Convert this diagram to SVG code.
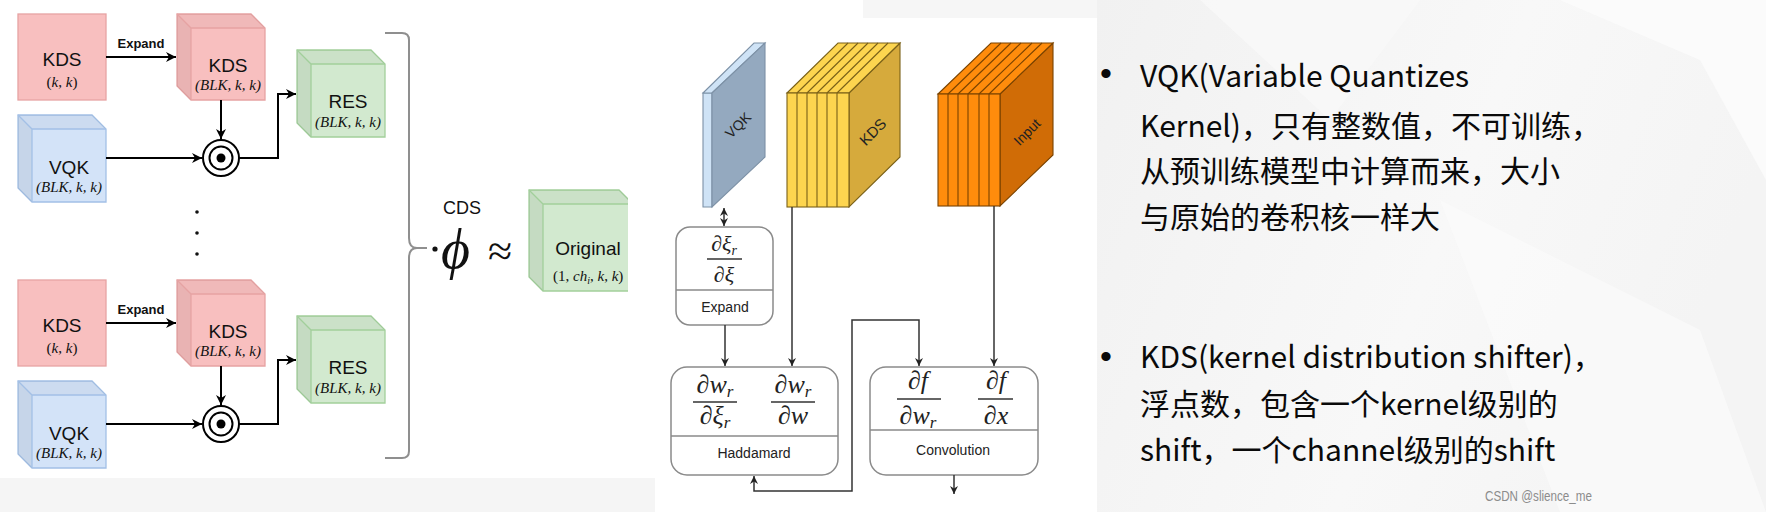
<svg xmlns="http://www.w3.org/2000/svg" width="1766" height="512" viewBox="0 0 1766 512">
<style>
.sans{font-family:"Liberation Sans",Arial,sans-serif;}
.math{font-family:"Liberation Serif","Times New Roman",serif;font-style:italic;}
.mup{font-family:"Liberation Serif","Times New Roman",serif;font-style:normal;}
.pink{fill:#f8bfbf;stroke:#e6a3a3;stroke-width:1.3;}
.blue{fill:#d3e3f8;stroke:#a3c0e6;stroke-width:1.3;}
.green{fill:#d2e9cf;stroke:#a2cf9b;stroke-width:1.3;}
.shT{fill:#000;fill-opacity:0.03;stroke:none;}
.shL{fill:#000;fill-opacity:0.06;stroke:none;}
.lbl{font-size:19px;fill:#111;text-anchor:middle;}
.sub{font-size:15px;fill:#111;text-anchor:middle;}
.con{fill:none;stroke:#000;stroke-width:2;}
.con2{fill:none;stroke:#333;stroke-width:1.5;}
.box{fill:#fff;stroke:#8a8a8a;stroke-width:1.5;}
.frac{font-size:26px;fill:#222;text-anchor:middle;}
.fl{stroke:#333;stroke-width:1.4;}
.bl{font-size:14px;fill:#222;text-anchor:middle;}
.rt{font-family:"Noto Sans CJK SC","Noto Sans",sans-serif;font-size:30px;fill:#0a0a0a;}
.bul{font-family:"Liberation Sans",Arial,sans-serif;font-size:34px;fill:#0a0a0a;text-anchor:middle;}
.slab{stroke-width:1.1;}
.rot{font-family:"Liberation Sans",Arial,sans-serif;fill:#222;stroke:none;text-anchor:middle;}
</style>
<defs>
<marker id="ah" viewBox="0 0 10 10" refX="10" refY="5" markerWidth="10" markerHeight="10" markerUnits="userSpaceOnUse" orient="auto-start-reverse"><path d="M0,0 L10,5 L0,10 L3,5 Z" fill="#000"/></marker>
<marker id="ah2" viewBox="0 0 10 10" refX="10" refY="5" markerWidth="8" markerHeight="8" markerUnits="userSpaceOnUse" orient="auto-start-reverse"><path d="M0,0 L10,5 L0,10 L3,5 Z" fill="#222"/></marker>
<linearGradient id="rbg" x1="0" y1="0" x2="1" y2="0.3">
<stop offset="0" stop-color="#f1f1f1"/><stop offset="0.6" stop-color="#f8f8f8"/><stop offset="1" stop-color="#f4f4f4"/>
</linearGradient>
<clipPath id="clipOrig"><rect x="500" y="150" width="128" height="160"/></clipPath>
</defs>

<!-- backgrounds -->
<rect x="0" y="0" width="1766" height="512" fill="#f5f5f5"/>
<rect x="0" y="0" width="1097" height="478" fill="#ffffff"/>
<rect x="655" y="470" width="442" height="42" fill="#ffffff"/>
<rect x="863" y="0" width="234" height="18" fill="#f6f6f6"/>
<rect x="1097" y="0" width="669" height="512" fill="url(#rbg)"/>
<polygon points="1560,0 1766,0 1766,180 1700,60" fill="#fbfbfb"/>
<polygon points="1440,200 1700,330 1766,512 1560,512" fill="#fafafa" opacity="0.8"/>
<polygon points="1200,0 1420,0 1330,120" fill="#fafafa" opacity="0.7"/>

<!-- ===== Left panel, top set ===== -->
<g id="kds-sq-1">
<rect class="pink" x="18" y="14" width="88" height="86"/>
<text class="sans lbl" x="62" y="66">KDS</text>
<text class="mup sub" x="62" y="87">(<tspan class="math">k</tspan>, <tspan class="math">k</tspan>)</text>
</g>
<g id="kds-cube-1">
<path class="pink" d="M177,14 H251 L265,28 V100 H191 L177,86 Z"/>
<path class="shT" d="M177,14 H251 L265,28 H191 Z"/>
<path class="shL" d="M177,14 L191,28 V100 L177,86 Z"/>
<path d="M177,14 L191,28 H265 M191,28 V100" fill="none" stroke="#e6a3a3" stroke-width="1.3"/>
<text class="sans lbl" x="228" y="72">KDS</text>
<text class="math sub" x="228" y="90">(BLK, k, k)</text>
</g>
<g id="vqk-cube-1">
<path class="blue" d="M18,115 H92 L106,129 V202 H32 L18,188 Z"/>
<path class="shT" d="M18,115 H92 L106,129 H32 Z"/>
<path class="shL" d="M18,115 L32,129 V202 L18,188 Z"/>
<path d="M18,115 L32,129 H106 M32,129 V202" fill="none" stroke="#a3c0e6" stroke-width="1.3"/>
<text class="sans lbl" x="69" y="174">VQK</text>
<text class="math sub" x="69" y="192">(BLK, k, k)</text>
</g>
<g id="odot-1">
<circle cx="221" cy="158" r="18" fill="#fff" stroke="#000" stroke-width="2"/>
<circle cx="221" cy="158" r="11.5" fill="none" stroke="#000" stroke-width="2"/>
<circle cx="221" cy="158" r="4.5" fill="#000"/>
</g>
<g id="res-cube-1">
<path class="green" d="M297,50 H371 L385,64 V137 H311 L297,123 Z"/>
<path class="shT" d="M297,50 H371 L385,64 H311 Z"/>
<path class="shL" d="M297,50 L311,64 V137 L297,123 Z"/>
<path d="M297,50 L311,64 H385 M311,64 V137" fill="none" stroke="#a2cf9b" stroke-width="1.3"/>
<text class="sans lbl" x="348" y="108">RES</text>
<text class="math sub" x="348" y="127">(BLK, k, k)</text>
</g>

<!-- ===== Left panel, bottom set ===== -->
<g id="kds-sq-2" transform="translate(0,266)">
<rect class="pink" x="18" y="14" width="88" height="86"/>
<text class="sans lbl" x="62" y="66">KDS</text>
<text class="mup sub" x="62" y="87">(<tspan class="math">k</tspan>, <tspan class="math">k</tspan>)</text>
</g>
<g id="kds-cube-2" transform="translate(0,266)">
<path class="pink" d="M177,14 H251 L265,28 V100 H191 L177,86 Z"/>
<path class="shT" d="M177,14 H251 L265,28 H191 Z"/>
<path class="shL" d="M177,14 L191,28 V100 L177,86 Z"/>
<path d="M177,14 L191,28 H265 M191,28 V100" fill="none" stroke="#e6a3a3" stroke-width="1.3"/>
<text class="sans lbl" x="228" y="72">KDS</text>
<text class="math sub" x="228" y="90">(BLK, k, k)</text>
</g>
<g id="vqk-cube-2" transform="translate(0,266)">
<path class="blue" d="M18,115 H92 L106,129 V202 H32 L18,188 Z"/>
<path class="shT" d="M18,115 H92 L106,129 H32 Z"/>
<path class="shL" d="M18,115 L32,129 V202 L18,188 Z"/>
<path d="M18,115 L32,129 H106 M32,129 V202" fill="none" stroke="#a3c0e6" stroke-width="1.3"/>
<text class="sans lbl" x="69" y="174">VQK</text>
<text class="math sub" x="69" y="192">(BLK, k, k)</text>
</g>
<g id="odot-2" transform="translate(0,266)">
<circle cx="221" cy="158" r="18" fill="#fff" stroke="#000" stroke-width="2"/>
<circle cx="221" cy="158" r="11.5" fill="none" stroke="#000" stroke-width="2"/>
<circle cx="221" cy="158" r="4.5" fill="#000"/>
</g>
<g id="res-cube-2" transform="translate(0,266)">
<path class="green" d="M297,50 H371 L385,64 V137 H311 L297,123 Z"/>
<path class="shT" d="M297,50 H371 L385,64 H311 Z"/>
<path class="shL" d="M297,50 L311,64 V137 L297,123 Z"/>
<path d="M297,50 L311,64 H385 M311,64 V137" fill="none" stroke="#a2cf9b" stroke-width="1.3"/>
<text class="sans lbl" x="348" y="108">RES</text>
<text class="math sub" x="348" y="127">(BLK, k, k)</text>
</g>

<!-- dots -->
<g id="ellipsis" fill="#111">
<circle cx="197" cy="212" r="1.8"/><circle cx="197" cy="233" r="1.8"/><circle cx="197" cy="254" r="1.8"/>
</g>

<!-- brace and formula -->
<g id="brace">
<path d="M385,33 H402 Q409,33 409,40 V238 Q409,248 417,248 H427 M417,248 Q409,248 409,258 V451 Q409,458 402,458 H385" fill="none" stroke="#8f8f8f" stroke-width="2"/>
</g>
<g id="formula">
<text class="sans" x="462" y="214" font-size="18" fill="#111" text-anchor="middle">CDS</text>
<circle cx="435" cy="249" r="2.6" fill="#111"/>
<text class="math" x="441" y="268" font-size="56" fill="#111">ϕ</text>
<text class="mup" x="488" y="266" font-size="44" fill="#111">≈</text>
</g>
<g id="original-cube" clip-path="url(#clipOrig)">
<path class="green" d="M529,190 H619 L633,204 V291 H543 L529,277 Z"/>
<path class="shT" d="M529,190 H619 L633,204 H543 Z"/>
<path class="shL" d="M529,190 L543,204 V291 L529,277 Z"/>
<path d="M529,190 L543,204 H633 M543,204 V291" fill="none" stroke="#a2cf9b" stroke-width="1.3"/>
<text class="sans lbl" x="588" y="255">Original</text>
<text class="mup" x="553" y="281" font-size="15" fill="#111">(1, <tspan class="math">ch</tspan><tspan class="math" font-size="10" dy="3">i</tspan><tspan dy="-3">, </tspan><tspan class="math">k</tspan>, <tspan class="math">k</tspan>)</text>
</g>

<!-- left connectors -->
<g id="left-connectors">
<line class="con" x1="106" y1="57" x2="176" y2="57" marker-end="url(#ah)"/>
<text class="sans" x="141" y="48" font-size="13" font-weight="bold" fill="#111" text-anchor="middle">Expand</text>
<line class="con" x1="221" y1="100" x2="221" y2="139" marker-end="url(#ah)"/>
<line class="con" x1="106" y1="158" x2="202" y2="158" marker-end="url(#ah)"/>
<polyline class="con" points="239,158 278,158 278,94 296,94" marker-end="url(#ah)"/>

<line class="con" x1="106" y1="323" x2="176" y2="323" marker-end="url(#ah)"/>
<text class="sans" x="141" y="314" font-size="13" font-weight="bold" fill="#111" text-anchor="middle">Expand</text>
<line class="con" x1="221" y1="366" x2="221" y2="405" marker-end="url(#ah)"/>
<line class="con" x1="106" y1="424" x2="202" y2="424" marker-end="url(#ah)"/>
<polyline class="con" points="239,424 278,424 278,360 296,360" marker-end="url(#ah)"/>
</g>

<!-- ===== Middle panel ===== -->
<g id="vqk-slab">
<g class="slab" stroke="#7d91a6">
<polygon points="703,93 712,93 712,207 703,207" fill="#cfe3f6"/>
<polygon points="703,93 754,43 765,43 712,93" fill="#cfe3f6"/>
<polygon points="712,93 765,43 765,157 712,207" fill="#94a9bf"/>
</g>
<text class="rot" x="738" y="130" font-size="14" transform="rotate(-45 738 125)">VQK</text>
</g>
<g id="kds-block">
<g class="slab" stroke="#7a6118">
<polygon points="849,93 900,43 900,157 849,207" fill="#d6aa3c"/>
<polygon points="787,93 838,43 900,43 849,93" fill="#fdd54f"/>
<rect x="787" y="93" width="62" height="114" fill="#fdd54f"/>
<path d="M797,93 V207 M807,93 V207 M817,93 V207 M827,93 V207 M837,93 V207 M797,93 L848,43 M807,93 L858,43 M817,93 L868,43 M827,93 L878,43 M837,93 L888,43" fill="none"/>
</g>
<text class="rot" x="873" y="137" font-size="15" transform="rotate(-45 873 132)">KDS</text>
</g>
<g id="input-block">
<g class="slab" stroke="#7a4300">
<polygon points="1000,94 1053,43 1053,155 1000,206" fill="#d06c06"/>
<polygon points="938,94 991,43 1053,43 1000,94" fill="#ff8c0c"/>
<rect x="938" y="94" width="62" height="112" fill="#ff8c0c"/>
<path d="M948,94 V206 M958,94 V206 M968,94 V206 M979,94 V206 M989,94 V206 M948,94 L1001,43 M958,94 L1011,43 M968,94 L1021,43 M979,94 L1032,43 M989,94 L1042,43" fill="none"/>
</g>
<text class="rot" x="1027" y="137" font-size="14" transform="rotate(-45 1027 132)">Input</text>
</g>

<g id="expand-box">
<rect class="box" x="676" y="227" width="97" height="98" rx="14"/>
<line x1="676" y1="290" x2="773" y2="290" stroke="#8a8a8a" stroke-width="1.3"/>
<text class="math" x="724" y="251" font-size="22" fill="#222" text-anchor="middle">∂ξ<tspan font-size="14" dy="4">r</tspan></text>
<line class="fl" x1="707" y1="259" x2="742" y2="259"/>
<text class="math" x="724" y="282" font-size="22" fill="#222" text-anchor="middle">∂ξ</text>
<text class="sans" x="725" y="312" font-size="14" fill="#222" text-anchor="middle">Expand</text>
</g>
<g id="haddamard-box">
<rect class="box" x="671" y="367" width="167" height="108" rx="16"/>
<line x1="671" y1="436" x2="838" y2="436" stroke="#8a8a8a" stroke-width="1.3"/>
<text class="math frac" x="715" y="393">∂w<tspan font-size="17" dy="4">r</tspan></text>
<line class="fl" x1="693" y1="402" x2="737" y2="402"/>
<text class="math frac" x="715" y="424">∂ξ<tspan font-size="17" dy="4">r</tspan></text>
<text class="math frac" x="793" y="393">∂w<tspan font-size="17" dy="4">r</tspan></text>
<line class="fl" x1="771" y1="402" x2="815" y2="402"/>
<text class="math frac" x="793" y="424">∂w</text>
<text class="sans bl" x="754" y="458">Haddamard</text>
</g>
<g id="convolution-box">
<rect class="box" x="870" y="367" width="168" height="108" rx="16"/>
<line x1="870" y1="430" x2="1038" y2="430" stroke="#8a8a8a" stroke-width="1.3"/>
<text class="math frac" x="918" y="389">∂f</text>
<line class="fl" x1="897" y1="399" x2="941" y2="399"/>
<text class="math frac" x="918" y="424">∂w<tspan font-size="17" dy="4">r</tspan></text>
<text class="math frac" x="996" y="389">∂f</text>
<line class="fl" x1="978" y1="399" x2="1013" y2="399"/>
<text class="math frac" x="996" y="424">∂x</text>
<text class="sans bl" x="953" y="455">Convolution</text>
</g>

<g id="middle-connectors">
<line class="con2" x1="724" y1="208" x2="724" y2="226" marker-start="url(#ah2)" marker-end="url(#ah2)"/>
<line class="con2" x1="792" y1="207" x2="792" y2="366" marker-end="url(#ah2)"/>
<line class="con2" x1="994" y1="206" x2="994" y2="366" marker-end="url(#ah2)"/>
<line class="con2" x1="725" y1="325" x2="725" y2="366" marker-end="url(#ah2)"/>
<polyline class="con2" points="754,476 754,491 852,491 852,320 919,320 919,366" marker-start="url(#ah2)" marker-end="url(#ah2)"/>
<line class="con2" x1="954" y1="475" x2="954" y2="494" marker-end="url(#ah2)"/>
</g>

<!-- ===== Right panel text ===== -->
<g id="notes">
<text class="bul" x="1106" y="85">•</text>
<text class="rt" x="1140" y="87">VQK(Variable Quantizes</text>
<text class="rt" x="1140" y="137">Kernel)，只有整数值，不可训练，</text>
<text class="rt" x="1140" y="182">从预训练模型中计算而来，大小</text>
<text class="rt" x="1140" y="228">与原始的卷积核一样大</text>
<text class="bul" x="1106" y="368">•</text>
<text class="rt" x="1140" y="368">KDS(kernel distribution shifter)，</text>
<text class="rt" x="1140" y="415">浮点数，包含一个kernel级别的</text>
<text class="rt" x="1140" y="461">shift，一个channel级别的shift</text>
<text class="sans" x="1485" y="501" font-size="14" fill="#8c8c8c" textLength="107" lengthAdjust="spacingAndGlyphs">CSDN @slience_me</text>
</g>
</svg>
